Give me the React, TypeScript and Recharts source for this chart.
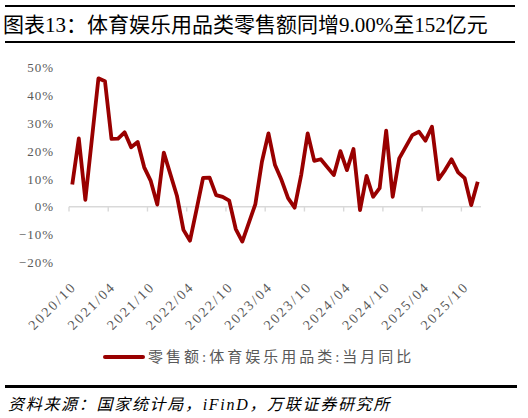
import { LineChart, Line, XAxis, YAxis, ReferenceLine } from 'recharts';

// 零售额:体育娱乐用品类:当月同比 (%), 2020/10 - 2025/12; January is not published
const months2020 = ['2020/10', '2020/11', '2020/12'];
const yoy2020 = [8.0, 24.6, 2.5];

const months2021 = ['2021/01', '2021/02', '2021/03', '2021/04', '2021/05', '2021/06', '2021/07', '2021/08', '2021/09', '2021/10', '2021/11', '2021/12'];
const yoy2021 = [null, 46.2, 45.2, 24.4, 24.5, 26.8, 21.4, 23.3, 14.2, 9.3, 0.8, 19.5];

const months2022 = ['2022/01', '2022/02', '2022/03', '2022/04', '2022/05', '2022/06', '2022/07', '2022/08', '2022/09', '2022/10', '2022/11', '2022/12'];
const yoy2022 = [null, 4.0, -8.3, -12.2, -1.0, 10.4, 10.5, 4.2, 3.6, 2.2, -8.0, -12.5];

const months2023 = ['2023/01', '2023/02', '2023/03', '2023/04', '2023/05', '2023/06', '2023/07', '2023/08', '2023/09', '2023/10', '2023/11', '2023/12'];
const yoy2023 = [null, 1.0, 16.2, 26.4, 15.0, 9.6, 3.1, -0.3, 11.4, 26.4, 16.5, 17.1];

const months2024 = ['2024/01', '2024/02', '2024/03', '2024/04', '2024/05', '2024/06', '2024/07', '2024/08', '2024/09', '2024/10', '2024/11', '2024/12'];
const yoy2024 = [null, 11.4, 20.0, 13.2, 20.8, -1.2, 11.1, 3.6, 6.7, 27.4, 3.6, 17.4];

const months2025 = ['2025/01', '2025/02', '2025/03', '2025/04', '2025/05', '2025/06', '2025/07', '2025/08', '2025/09', '2025/10', '2025/11', '2025/12'];
const yoy2025 = [null, 25.8, 27.0, 23.8, 28.8, 9.9, 13.2, 17.1, 12.4, 10.3, 0.6, 9.0];

const yTicks = [-20, -10, 0, 10, 20, 30, 40, 50];
const labelStep = 6; // one label every six months, 2020/10 ... 2025/10

const months = [...months2020, ...months2021, ...months2022, ...months2023, ...months2024, ...months2025];
const yoy = [...yoy2020, ...yoy2021, ...yoy2022, ...yoy2023, ...yoy2024, ...yoy2025];

const data = months.map((m, i) => ({ idx: i, month: m, value: yoy[i] }));
const labelIdx = months.map((_, i) => i).filter((i) => i % labelStep === 0);
// Excel puts the tick marks on the category edges
const tickEdges = labelIdx.map((i) => i - 0.5);

const RED = '#990000';
const GREY = '#595959';
const SERIF = "'Liberation Serif', 'Noto Sans CJK SC', serif";

const MonthTick = ({ x, y, payload }: any) => {
  const tx = x + 5;
  const ty = y + 25;
  return (
    <text
      x={tx}
      y={ty}
      transform={`rotate(-45, ${tx}, ${ty})`}
      textAnchor="end"
      fill={GREY}
      fontSize={14}
      fontFamily={SERIF}
      letterSpacing={2.2}
    >
      {months[payload.value]}
    </text>
  );
};

const App = () => {
  return (
    <div style={{ position: 'absolute', left: 0, top: 0, width: 528, height: 418, background: '#fff', fontFamily: SERIF }}>
      {/* title */}
      <div style={{ position: 'absolute', left: 5, top: 4.7, width: 510, height: 2.7, background: '#000' }} />
      <div style={{ position: 'absolute', left: 3, top: 10.5, fontSize: 21, lineHeight: '28px', color: '#000', whiteSpace: 'nowrap' }}>
        图表13：体育娱乐用品类零售额同增9.00%至152亿元
      </div>
      <div style={{ position: 'absolute', left: 5, top: 40.7, width: 510, height: 2.7, background: '#000' }} />

      <div style={{ position: 'absolute', left: 0, top: 0 }}>
        <LineChart width={528} height={340} data={data} margin={{ top: 67.8, right: 47, bottom: 17.6, left: 0 }}>
          <XAxis
            type="number"
            dataKey="idx"
            domain={[-0.5, months.length - 0.5]}
            ticks={labelIdx}
            interval={0}
            axisLine={false}
            tickLine={false}
            tickSize={0}
            tickMargin={0}
            height={60}
            tick={<MonthTick />}
          />
          <YAxis
            domain={[-20, 50]}
            ticks={yTicks}
            width={69}
            axisLine={false}
            tickLine={false}
            tickSize={0}
            tickMargin={15}
            tickFormatter={(v: number) => `${v < 0 ? '−' + Math.abs(v) : v}%`}
            tick={{ fill: GREY, fontSize: 13, fontFamily: SERIF, letterSpacing: 1 }}
          />
          <ReferenceLine y={0} stroke="#d9d9d9" strokeWidth={1.6} />
          {tickEdges.map((e) => (
            <ReferenceLine
              key={e}
              segment={[{ x: e, y: 0 }, { x: e, y: -1.7 }]}
              stroke="#d9d9d9"
              strokeWidth={1.4}
            />
          ))}
          <Line
            type="linear"
            dataKey="value"
            stroke={RED}
            strokeWidth={3.8}
            strokeLinejoin="round"
            dot={false}
            connectNulls
            isAnimationActive={false}
          />
        </LineChart>
      </div>

      {/* legend */}
      <div style={{ position: 'absolute', left: 103, top: 355.3, width: 42, height: 4, background: RED, borderRadius: 2 }} />
      <div style={{ position: 'absolute', left: 148, top: 346, fontSize: 15, lineHeight: '22px', color: GREY, letterSpacing: 3, whiteSpace: 'nowrap' }}>
        零售额:体育娱乐用品类:当月同比
      </div>

      {/* source */}
      <div style={{ position: 'absolute', left: 5, top: 385.3, width: 512, height: 3, background: '#000' }} />
      <div style={{ position: 'absolute', left: 8, top: 394, fontSize: 16, lineHeight: '22px', color: '#000', fontStyle: 'italic', letterSpacing: 1.7, whiteSpace: 'nowrap' }}>
        资料来源：国家统计局，iFinD，万联证券研究所
      </div>
    </div>
  );
};

export default App;
